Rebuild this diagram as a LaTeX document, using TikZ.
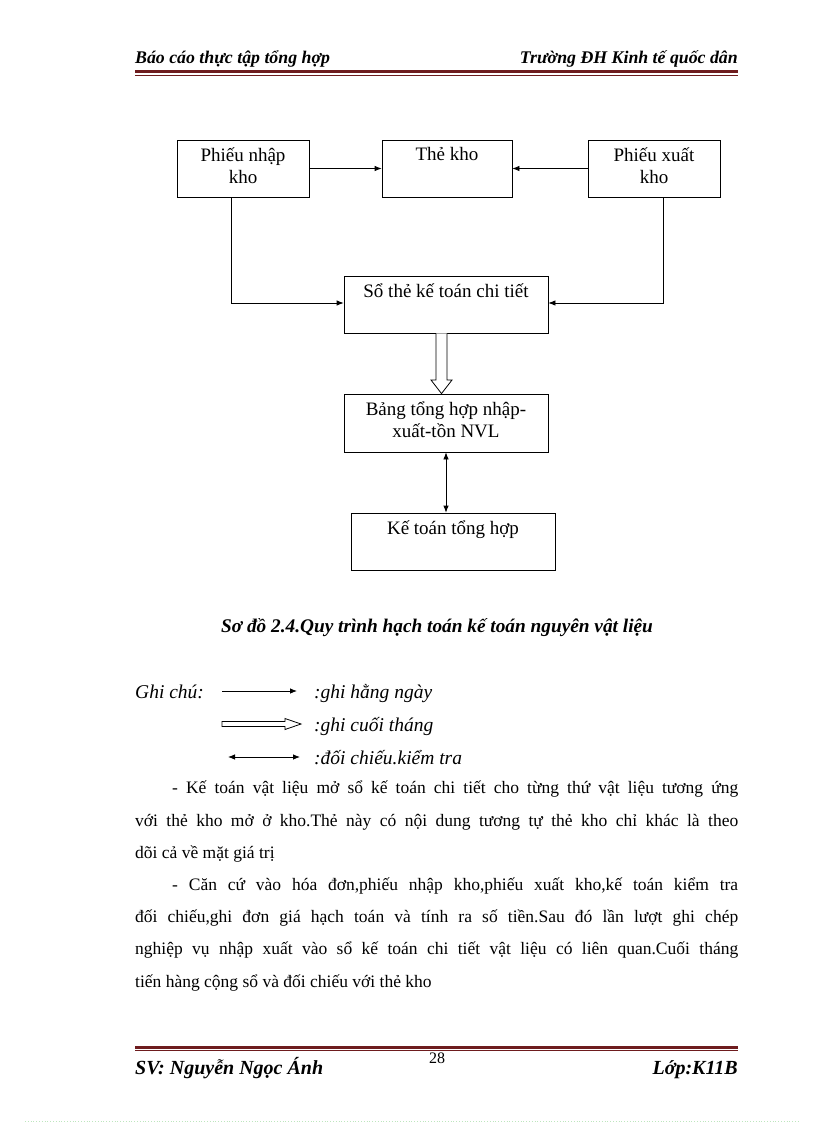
\documentclass[tikz,border=0pt]{standalone}
\usepackage{fontspec}
\setmainfont{Liberation Serif}
\usetikzlibrary{arrows.meta,calc}
\definecolor{hdrred}{RGB}{110,28,30}
\definecolor{dotgreen}{RGB}{190,230,190}
\tikzset{
  box/.style={draw,line width=0.8pt,minimum height=57pt,inner sep=0pt},
  boxtext/.style={anchor=north,align=center,inner sep=0pt,font=\fontsize{19}{21.5}\selectfont},
  conn/.style={line width=0.8pt,-{Latex[length=7pt,width=5.5pt]}},
  dconn/.style={line width=0.8pt,{Latex[length=7pt,width=5.5pt]}-{Latex[length=7pt,width=5.5pt]}},
  hollow/.style={line width=0.8pt,fill=white},
  hdr/.style={font=\fontsize{17.8}{20}\selectfont\bfseries\itshape,inner sep=0pt},
  ftr/.style={font=\fontsize{20}{22}\selectfont\bfseries\itshape,inner sep=0pt},
  legtext/.style={font=\fontsize{19.5}{22}\selectfont\itshape,inner sep=0pt,anchor=base west},
  rulethick/.style={hdrred,line width=3pt},
  rulethin/.style={hdrred,line width=0.8pt}
}
\begin{document}
\begin{tikzpicture}[x=1pt,y=-1pt]
\useasboundingbox (0,0) rectangle (816,1123);
\fill[white] (0,0) rectangle (816,1123);

% header
\node[hdr,anchor=base west] (h1) at (135,64) {Báo cáo thực tập tổng hợp};
\node[hdr,anchor=base east] (h2) at (738,64) {Trường ĐH Kinh tế quốc dân};
\draw[rulethick] (135,72) -- (738,72);
\draw[rulethin] (135,75.5) -- (738,75.5);

% boxes
\node[box,minimum width=132pt] (pn) at (243,168.5) {};
\node[box,minimum width=130pt] (tk) at (447,168.5) {};
\node[box,minimum width=132pt] (px) at (654,168.5) {};
\node[box,minimum width=204pt] (so) at (446,304.5) {};
\node[box,minimum width=204pt,minimum height=58pt] (bt) at (446,423) {};
\node[box,minimum width=204pt] (kt) at (453,541.5) {};

\node[boxtext] (pnt) at ([yshift=-8]pn.north) {Phiếu nhập\\kho};
\node[boxtext] (tkt) at ([yshift=-8]tk.north) {Thẻ kho};
\node[boxtext] (pxt) at ([yshift=-8]px.north) {Phiếu xuất\\kho};
\node[boxtext] (sot) at ([yshift=-8]so.north) {Sổ thẻ kế toán chi tiết};
\node[boxtext] (btt) at ([yshift=-8]bt.north) {Bảng tổng hợp nhập-\\xuất-tồn NVL};
\node[boxtext] (ktt) at ([yshift=-8]kt.north) {Kế toán tổng hợp};

% connectors
\draw[conn] (pn.east) -- (tk.west);
\draw[conn] (px.west) -- (tk.east);
\draw[conn] ([xshift=-12]pn.south) |- ([yshift=1.5]so.west);
\draw[conn] ([xshift=9]px.south) |- ([yshift=1.5]so.east);
\draw[hollow] ([xshift=-10]so.south) -- (436,380) -- (431,380) -- ([xshift=-4.5]bt.north) -- (452,380) -- (447,380) -- ([xshift=1]so.south);
\draw[dconn] (bt.south) -- (bt.south |- kt.north);

% caption
\node[font=\fontsize{19.3}{22}\selectfont\bfseries\itshape,inner sep=0pt] (cap) at (437,628) {Sơ đồ 2.4.Quy trình hạch toán kế toán nguyên vật liệu};

% legend
\node[legtext] (gc) at (135,698) {Ghi chú:};
\coordinate (l1a) at (222,691);
\coordinate (l1b) at (297,691);
\draw[conn] (l1a) -- (l1b);
\node[legtext] (l1) at (314,698) {:ghi hằng ngày};
\draw[hollow] (222,721.5) -- (285,721.5) -- (285,718.5) -- (301,724) -- (285,729.5) -- (285,726.5) -- (222,726.5) -- cycle;
\node[legtext] (l2) at (314,731) {:ghi cuối tháng};
\coordinate (l3a) at (228,757);
\coordinate (l3b) at (300,757);
\draw[dconn] (l3a) -- (l3b);
\node[legtext] (l3) at (314,764) {:đối chiếu.kiểm tra};

% body text
\node[anchor=north west,inner sep=0pt,text width=603pt,align=justify,
      font=\fontsize{17.5}{32.2}\selectfont] (body) at (135,781) {%
\hspace*{37pt}- Kế toán vật liệu mở sổ kế toán chi tiết cho từng thứ vật liệu tương ứng\linebreak
với thẻ kho mở ở kho.Thẻ này có nội dung tương tự thẻ kho chỉ khác là theo\linebreak
dõi cả về mặt giá trị\par
\hspace*{37pt}- Căn cứ vào hóa đơn,phiếu nhập kho,phiếu xuất kho,kế toán kiểm tra\linebreak
đối chiếu,ghi đơn giá hạch toán và tính ra số tiền.Sau đó lần lượt ghi chép\linebreak
nghiệp vụ nhập xuất vào sổ kế toán chi tiết vật liệu có liên quan.Cuối tháng\linebreak
tiến hàng cộng sổ và đối chiếu với thẻ kho\par};

% footer
\draw[rulethick] (135,1047) -- (738,1047);
\draw[rulethin] (135,1050.5) -- (738,1050.5);
\node[font=\fontsize{16}{18}\selectfont,inner sep=0pt] (pg) at (437,1058) {28};
\node[ftr,anchor=base west] (f1) at (135,1074) {SV: Nguyễn Ngọc Ánh};
\node[ftr,anchor=base east] (f2) at (738,1074) {Lớp:K11B};

\draw[dotgreen,line width=0.8pt,dotted] (25,1121) -- (800,1121);
\end{tikzpicture}
\end{document}
